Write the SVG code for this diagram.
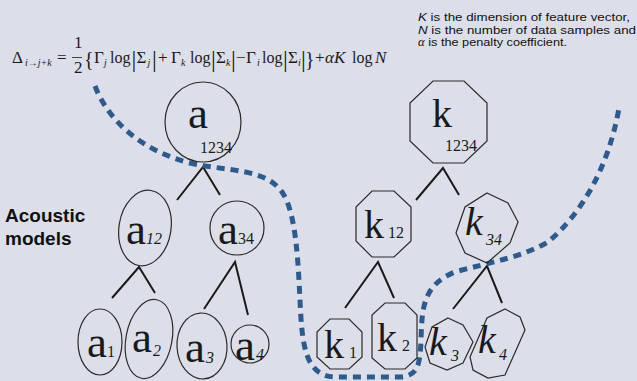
<svg xmlns="http://www.w3.org/2000/svg" width="637" height="381" viewBox="0 0 637 381">
<style>
.f{font-family:"Liberation Serif","Times New Roman",serif;fill:#1a1a1a}
.m{font-size:17px}
.l{font-size:16px}
.s{font-size:10px;font-style:italic}
.d{font-size:24px}
.b{font-size:20px}
.it{font-style:italic}
.n{font-family:"Liberation Sans",Arial,sans-serif;font-size:11.5px;fill:#111}
.big{font-size:45px}
.bk{font-size:40px}
.sub{font-size:16px}
.node{fill:none;stroke:#2a2a2a;stroke-width:1.2}
.edge{stroke:#1a1a1a;stroke-width:2;fill:none}
.dash{fill:none;stroke:#2f5b8c;stroke-width:5;stroke-dasharray:8 6}
</style>
<rect width="637" height="381" fill="#dcdfea"/>

<g id="formula" class="f">
<line x1="72" y1="57.5" x2="82" y2="57.5" stroke="#1a1a1a" stroke-width="0.8"/>
<text class="m"><tspan x="12" y="63">Δ</tspan><tspan class="s" x="25" y="66">i→j+k</tspan><tspan x="57" y="63">=</tspan><tspan x="74" y="48">1</tspan><tspan x="74" y="73">2</tspan><tspan class="b" x="84" y="66">{</tspan><tspan x="94" y="63">Γ</tspan><tspan class="s" x="104" y="66">j</tspan><tspan class="l" x="110" y="63">log</tspan><tspan class="d" x="131.5" y="67">|</tspan><tspan x="136.5" y="63">Σ</tspan><tspan class="s" x="147.5" y="66">j</tspan><tspan class="d" x="152" y="67">|</tspan><tspan x="158" y="63">+</tspan><tspan x="171" y="63">Γ</tspan><tspan class="s" x="181" y="66">k</tspan><tspan class="l" x="190" y="63">log</tspan><tspan class="d" x="211" y="67">|</tspan><tspan x="216" y="63">Σ</tspan><tspan class="s" x="226" y="66">k</tspan><tspan class="d" x="231" y="67">|</tspan><tspan x="236" y="63">−</tspan><tspan x="246" y="63">Γ</tspan><tspan class="s" x="257" y="66">i</tspan><tspan class="l" x="262" y="63">log</tspan><tspan class="d" x="283" y="67">|</tspan><tspan x="288" y="63">Σ</tspan><tspan class="s" x="298" y="66">i</tspan><tspan class="d" x="301" y="67">|</tspan><tspan class="b" x="305" y="66">}</tspan><tspan x="315" y="63">+</tspan><tspan class="it" x="325" y="63">α</tspan><tspan class="it" x="334" y="63">K</tspan><tspan class="l" x="352" y="63">log</tspan><tspan class="it" x="375" y="63">N</tspan></text>
</g>

<g id="note" class="n">
<text x="418" y="21" textLength="212" lengthAdjust="spacingAndGlyphs"><tspan font-style="italic">K</tspan> is the dimension of feature vector,</text>
<text x="418" y="34" textLength="218" lengthAdjust="spacingAndGlyphs"><tspan font-style="italic">N</tspan> is the number of data samples and</text>
<text x="418" y="46" textLength="149" lengthAdjust="spacingAndGlyphs"><tspan font-family="Liberation Serif,serif" font-style="italic">α</tspan> is the penalty coefficient.</text>
</g>

<g id="label">
<text x="5" y="222" font-family="Liberation Sans,Arial,sans-serif" font-weight="bold" font-size="19" fill="#111">Acoustic</text>
<text x="5" y="245" font-family="Liberation Sans,Arial,sans-serif" font-weight="bold" font-size="19" fill="#111">models</text>
</g>

<g id="connectors">
<polyline class="edge" points="177,200 203,167 220,195"/>
<polyline class="edge" points="112,298 139,267 155,293"/>
<polyline class="edge" points="204,309 235,262 248,315"/>
<polyline class="edge" points="416,200 443,168 459,195"/>
<polyline class="edge" points="345,308 378,262 394,298"/>
<polyline class="edge" points="453,309 487,266 502,303"/>
<path class="dash" d="M95,86 C108,120 140,150 190,163 C230,172 265,168 282,192 C296,212 298,260 300,300 C302,345 305,376 335,377 L400,377 C418,376 420,365 421,340 C422,310 422,285 455,272 C490,262 520,258 548,242 C580,215 608,170 619,108"/>
</g>

<g id="a1234" class="f">
<ellipse class="node" cx="203" cy="122" rx="38" ry="40"/>
<text class="big" x="188" y="128">a</text>
<text class="sub" x="200" y="153">1234</text>
</g>
<g id="a12" class="f">
<ellipse class="node" cx="145" cy="228" rx="26" ry="38" transform="rotate(9 145 228)"/>
<text class="big" x="126" y="244">a</text>
<text class="sub it" x="146" y="244">12</text>
</g>
<g id="a34" class="f">
<ellipse class="node" cx="237" cy="228" rx="27" ry="27"/>
<text class="big" x="218" y="244">a</text>
<text class="sub" x="238" y="244">34</text>
</g>
<g id="a1" class="f">
<ellipse class="node" cx="100" cy="342" rx="22" ry="33"/>
<text class="big" x="87" y="357">a</text>
<text class="sub" x="107" y="357">1</text>
</g>
<g id="a2" class="f">
<ellipse class="node" cx="149" cy="339" rx="23" ry="40" transform="rotate(11 149 339)"/>
<text class="big" x="132" y="352">a</text>
<text class="sub it" x="153" y="356">2</text>
</g>
<g id="a3" class="f">
<ellipse class="node" cx="202" cy="346" rx="25" ry="33" transform="rotate(-3 202 346)"/>
<text class="big" x="185" y="362">a</text>
<text class="sub it" x="206" y="363">3</text>
</g>
<g id="a4" class="f">
<ellipse class="node" cx="250" cy="344" rx="19" ry="19"/>
<text class="big" x="235" y="360">a</text>
<text class="sub it" x="256" y="360">4</text>
</g>

<g id="k1234" class="f">
<polygon class="node" points="433,81 464,81 487,103 487,141 464,163 433,163 410,141 410,103"/>
<text class="bk" x="432" y="127">k</text>
<text class="sub" x="445" y="151">1234</text>
</g>
<g id="k12" class="f">
<polygon class="node" points="372,191 394,191 411,207 411,241 394,257 372,257 356,241 356,207"/>
<text class="bk" x="364" y="238">k</text>
<text class="sub" x="388" y="238">12</text>
</g>
<g id="k34" class="f">
<polygon class="node" points="487,193 508,203 518,222 510,243 487,263 465,253 456,233 465,207"/>
<text class="bk it" x="465" y="235">k</text>
<text class="sub it" x="486" y="245">34</text>
</g>
<g id="k1" class="f">
<polygon class="node" points="330,319 349,319 362,332 362,357 349,369 330,369 317,357 317,332"/>
<text class="bk" x="324" y="358">k</text>
<text class="sub" x="349" y="358">1</text>
</g>
<g id="k2" class="f">
<polygon class="node" points="385,303 405,303 417,315 417,358 405,369 385,369 372,358 372,315"/>
<text class="bk" x="377" y="351">k</text>
<text class="sub" x="402" y="351">2</text>
</g>
<g id="k3" class="f">
<polygon class="node" points="448,318 463,325 473,342 463,363 447,370 430,363 425,347 432,327"/>
<text class="bk it" x="429" y="355">k</text>
<text class="sub it" x="451" y="361">3</text>
</g>
<g id="k4" class="f">
<polygon class="node" points="505,309 520,317 525,330 505,375 488,378 473,370 470,357 487,318"/>
<text class="bk it" x="478" y="353">k</text>
<text class="sub it" x="499" y="360">4</text>
</g>
</svg>
